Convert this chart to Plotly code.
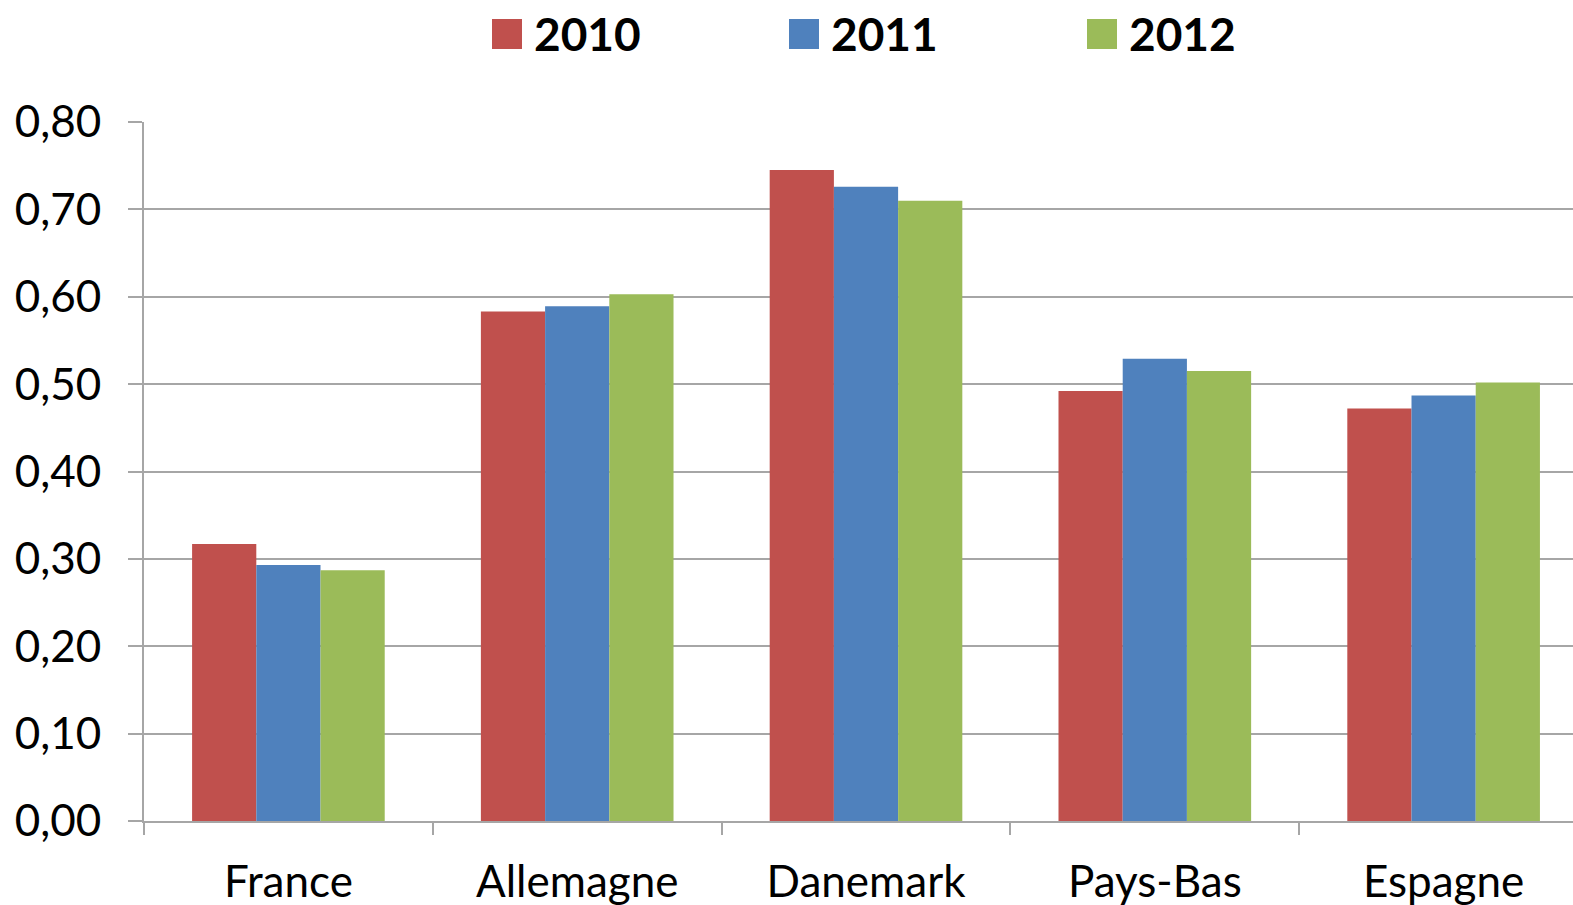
import plotly.graph_objects as go

categories = ["France", "Allemagne", "Danemark", "Pays-Bas", "Espagne"]
years = ["2010", "2011", "2012"]
values_2010 = [0.317, 0.583, 0.745, 0.492, 0.472]
values_2011 = [0.293, 0.589, 0.726, 0.529, 0.487]
values_2012 = [0.287, 0.603, 0.710, 0.515, 0.502]
colors = ["#C0504D", "#4F81BD", "#9BBB59"]
y_ticks = [0.0, 0.1, 0.2, 0.3, 0.4, 0.5, 0.6, 0.7, 0.8]

series = [values_2010, values_2011, values_2012]
FONT = "Lato, 'Open Sans', sans-serif"
GRID = "#A6A6A6"

W, H = 1573, 905
ML, MR, MT, MB = 144, 0, 122, 84
PW, PH = W - ML - MR, H - MT - MB


def px_x(x):
    return (x - ML) / PW


def px_y(y):
    return (H - MB - y) / PH


fig = go.Figure()
for name, vals, col in zip(years, series, colors):
    fig.add_trace(go.Bar(x=categories, y=vals, name=name, marker_color=col,
                         marker_line_width=0, showlegend=False))

fig.update_layout(
    width=W, height=H,
    margin=dict(l=ML, r=MR, t=MT, b=MB, pad=0, autoexpand=False),
    paper_bgcolor="white", plot_bgcolor="white",
    barmode="group", bargap=0.333, bargroupgap=0,
    separators=", ",
    font=dict(family=FONT, color="black"),
    xaxis=dict(range=[-0.5, 4.448], automargin=False, showline=True, linecolor=GRID,
               linewidth=2, ticks="outside", tickson="boundaries", ticklen=12,
               tickcolor=GRID, tickwidth=2, tickfont=dict(size=44, family=FONT),
               ticklabelstandoff=21, showgrid=False),
    yaxis=dict(range=[0, 0.8], tickvals=y_ticks, tickformat=".2f", automargin=False,
               showline=True, linecolor=GRID, linewidth=2,
               ticks="outside", ticklen=14, tickcolor=GRID, tickwidth=2,
               showgrid=True, gridcolor=GRID, gridwidth=2, zeroline=False,
               tickfont=dict(size=44, family=FONT), ticklabelstandoff=18),
)

# custom legend (large squares like the original)
legend_px = [492, 789, 1087]
for name, col, lx in zip(years, colors, legend_px):
    fig.add_shape(type="rect", xref="paper", yref="paper",
                  x0=px_x(lx), x1=px_x(lx + 30), y0=px_y(49), y1=px_y(19),
                  fillcolor=col, line_width=0)
    fig.add_annotation(xref="paper", yref="paper", x=px_x(lx + 40), y=px_y(34),
                       text="<b>" + name + "</b>", showarrow=False, xanchor="left",
                       yanchor="middle", font=dict(size=46, family=FONT, color="black"))

fig.write_html("out.html",
               config={"displayModeBar": False},
               post_script="document.body.style.margin='0';"
                           "document.body.style.overflow='hidden';")
